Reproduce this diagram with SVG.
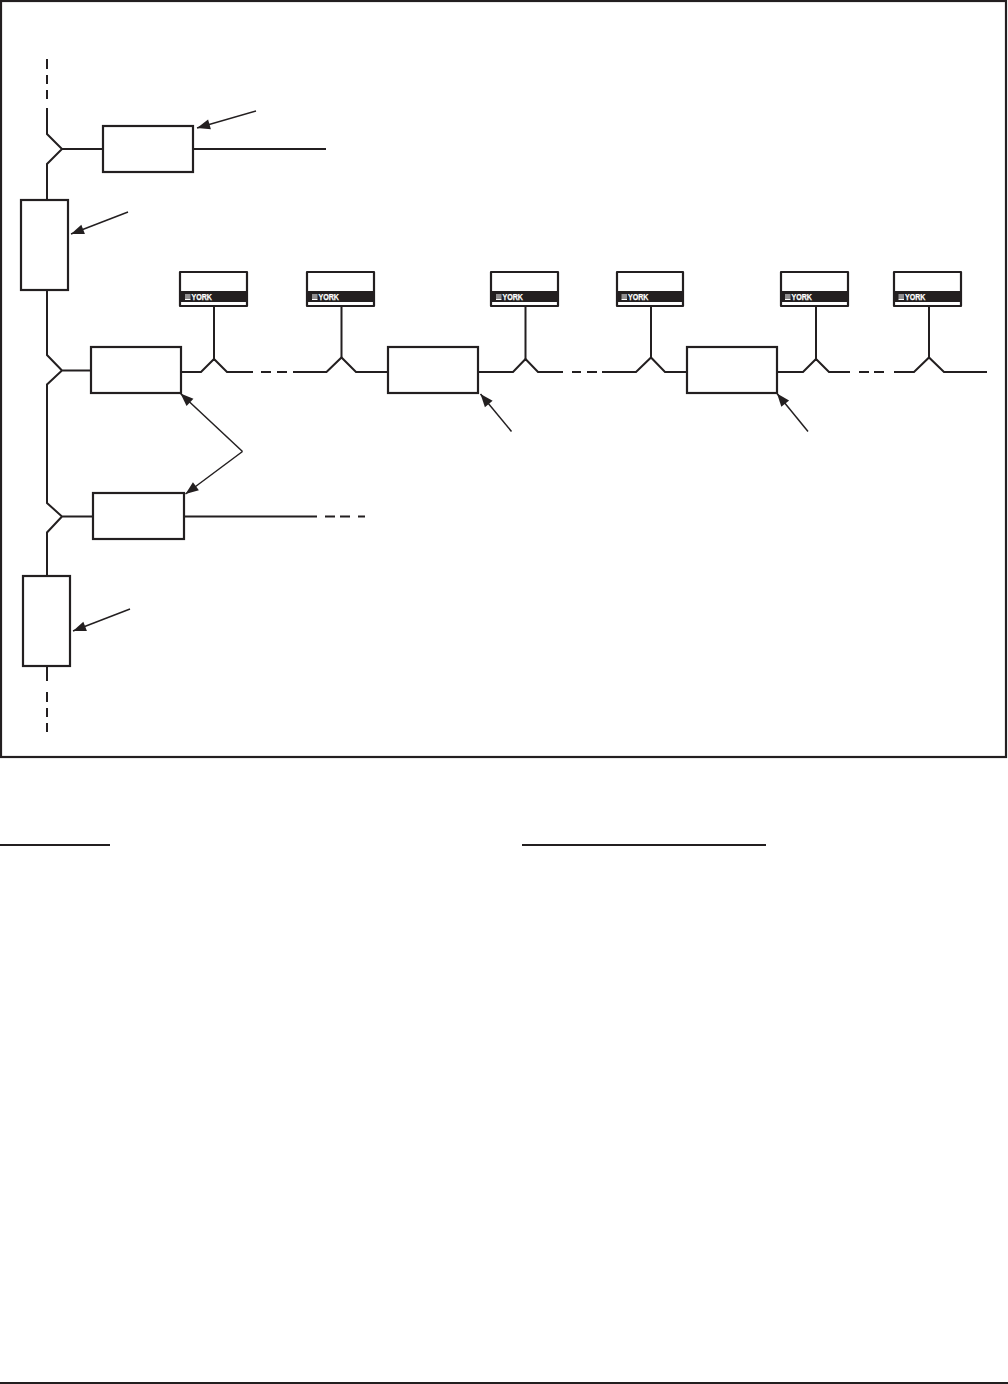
<svg xmlns="http://www.w3.org/2000/svg" width="1008" height="1384" viewBox="0 0 1008 1384">
<style>
.box{fill:#fff;stroke:#231f20;stroke-width:2.2}
.w{fill:none;stroke:#231f20;stroke-width:2}
.a{fill:none;stroke:#231f20;stroke-width:1.5;marker-end:url(#ah)}
.rule{fill:#231f20}
.yb{fill:#fff;stroke:#231f20;stroke-width:2.2;stroke-linejoin:round}
.band{fill:#231f20}
.logo{fill:#fff}
.yt{font-family:"Liberation Sans",Arial,sans-serif;font-weight:700;font-size:8.5px;fill:#fff;stroke:#fff;stroke-width:.25}
</style>
<defs>
<marker id="ah" markerUnits="userSpaceOnUse" markerWidth="15" markerHeight="11" refX="13" refY="5" orient="auto" overflow="visible">
<path d="M0 0L13 5L0 10Z" fill="#231f20"/>
</marker>
</defs>
<rect width="1008" height="1384" fill="#fff"/>
<rect id="frame" x="1" y="1" width="1005" height="756" fill="none" stroke="#231f20" stroke-width="2.2"/>
<g id="connectors">
<path class="w" d="M47 59V69M47 75V84M47 90V99M47 108V134L62 149L47 164V200M62 149H103M193 149H326"/>
<path class="w" d="M47 290V355L62 370.500L47 384.500V503L62 516.500L47 532.500V576M62 370.500H91M62 516.500H93M185 516.500H317M325 516.500H335M340 516.500H350M358 516.500H365"/>
<path class="w" d="M47 666V681M47 692V702M47 708V717M47 723V732"/>
<path class="w" d="M181 372H201L214 359L227 372H253M261 372H271M277 372H287M293 372H326.500L341.500 357.500L356 372H388"/>
<path class="w" d="M478 372H513L525.500 359L538 372H563M572 372H581M587 372H597M602 372H636L651 357.500L665 372H687"/>
<path class="w" d="M777 372H803L816 359L829 372H850M859 372H869M874 372H884M894 372H914L929 357.500L944 372H987"/>
<path class="w" d="M214 306V359M341.500 306V357.500M525.500 306V359M651 306V357.500M816 306V359M929 306V357.500"/>
<path class="a" d="M256 111L197 128"/>
<path class="a" d="M128 212L71 234"/>
<path class="a" d="M242.500 451.500L180.500 393.500"/>
<path class="a" d="M242.500 451.500L185.500 494"/>
<path class="a" d="M130 609L73 631"/>
<path class="a" d="M511.500 431.500L480.500 394"/>
<path class="a" d="M808 431.500L777 393.500"/>
</g>
<g id="box-top"><rect class="box" x="103" y="126" width="90" height="46"/></g>
<g id="box-riser-1"><rect class="box" x="21" y="200" width="47" height="90"/></g>
<g id="box-branch-1"><rect class="box" x="91" y="347" width="90" height="46"/></g>
<g id="box-branch-2"><rect class="box" x="93" y="493" width="91" height="46"/></g>
<g id="box-riser-2"><rect class="box" x="23" y="576" width="47" height="90"/></g>
<g id="box-bus-2"><rect class="box" x="388" y="347" width="90" height="46"/></g>
<g id="box-bus-3"><rect class="box" x="687" y="347" width="90" height="46"/></g>
<g id="york-1"><rect class="yb" x="180" y="272" width="67" height="34"/><rect class="band" x="180" y="291" width="67" height="11"/><path class="logo" d="M185 294.500h5.500v1h-5.500zM185 296.500h5.500v1h-5.500zM185 298.500h5.500v1.500h-5.500z"/><text class="yt" x="191.500" y="300" textLength="20.500" lengthAdjust="spacingAndGlyphs">YORK</text></g>
<g id="york-2"><rect class="yb" x="307" y="272" width="67" height="34"/><rect class="band" x="307" y="291" width="67" height="11"/><path class="logo" d="M312 294.500h5.500v1h-5.500zM312 296.500h5.500v1h-5.500zM312 298.500h5.500v1.500h-5.500z"/><text class="yt" x="318.500" y="300" textLength="20.500" lengthAdjust="spacingAndGlyphs">YORK</text></g>
<g id="york-3"><rect class="yb" x="491" y="272" width="67" height="34"/><rect class="band" x="491" y="291" width="67" height="11"/><path class="logo" d="M496 294.500h5.500v1h-5.500zM496 296.500h5.500v1h-5.500zM496 298.500h5.500v1.500h-5.500z"/><text class="yt" x="502.500" y="300" textLength="20.500" lengthAdjust="spacingAndGlyphs">YORK</text></g>
<g id="york-4"><rect class="yb" x="617" y="272" width="66" height="34"/><rect class="band" x="617" y="291" width="66" height="11"/><path class="logo" d="M621.500 294.500h5.500v1h-5.500zM621.500 296.500h5.500v1h-5.500zM621.500 298.500h5.500v1.500h-5.500z"/><text class="yt" x="628" y="300" textLength="20.500" lengthAdjust="spacingAndGlyphs">YORK</text></g>
<g id="york-5"><rect class="yb" x="781" y="272" width="67" height="34"/><rect class="band" x="781" y="291" width="67" height="11"/><path class="logo" d="M785 294.500h5.500v1h-5.500zM785 296.500h5.500v1h-5.500zM785 298.500h5.500v1.500h-5.500z"/><text class="yt" x="791.500" y="300" textLength="20.500" lengthAdjust="spacingAndGlyphs">YORK</text></g>
<g id="york-6"><rect class="yb" x="894" y="272" width="67" height="34"/><rect class="band" x="894" y="291" width="67" height="11"/><path class="logo" d="M898.500 294.500h5.500v1h-5.500zM898.500 296.500h5.500v1h-5.500zM898.500 298.500h5.500v1.500h-5.500z"/><text class="yt" x="905" y="300" textLength="20.500" lengthAdjust="spacingAndGlyphs">YORK</text></g>
<rect class="rule" x="0" y="844" width="110" height="2"/>
<rect class="rule" x="522" y="844" width="244" height="2"/>
<rect class="rule" x="0" y="1382" width="1008" height="2"/>
</svg>
